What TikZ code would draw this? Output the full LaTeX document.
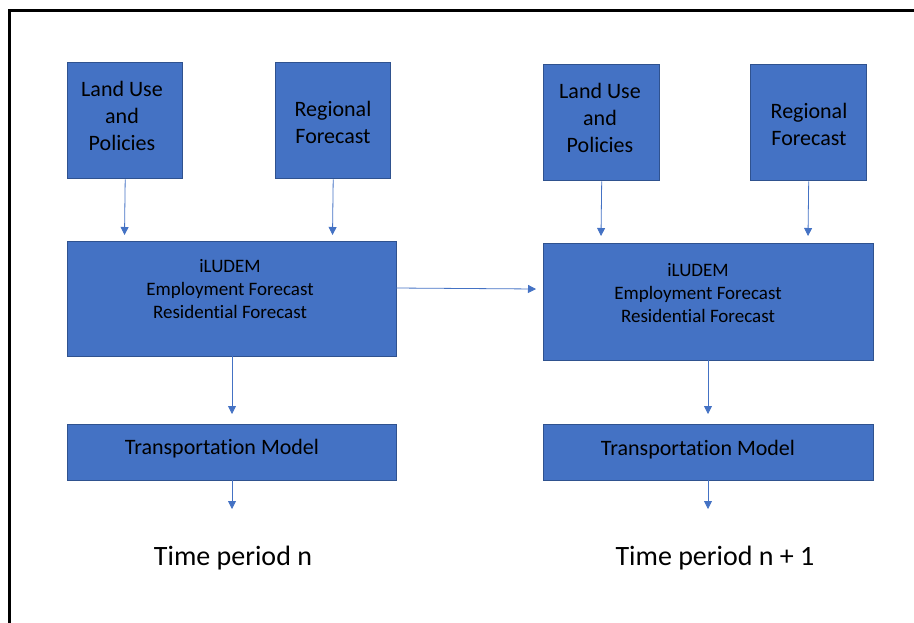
\documentclass[tikz,border=0pt]{standalone}
\usepackage{fontspec}
\setmainfont[Ligatures=NoCommon]{Carlito}
\usetikzlibrary{arrows.meta}
\definecolor{boxfill}{HTML}{4472C4}
\definecolor{boxline}{HTML}{2F528F}
\definecolor{arrcol}{HTML}{4472C4}
\begin{document}
\begin{tikzpicture}[x=1pt,y=-1pt,
  box/.style={draw=boxline, fill=boxfill, line width=1.4pt, inner sep=0pt, anchor=north west},
  bigtxt/.style={font=\fontsize{22}{27}\selectfont, align=center, text=black, inner sep=0pt},
  midtxt/.style={font=\fontsize{19}{23}\selectfont, align=center, text=black, inner sep=0pt},
  hugetxt/.style={font=\fontsize{28}{34}\selectfont, text=black, inner sep=0pt},
  conn/.style={draw=arrcol, line width=0.8pt, -{Triangle[length=8pt,width=8pt]}}]
\useasboundingbox (0,0) rectangle (914,622);
% frame
\draw[line width=3pt, black] (9,625) -- (9,10) -- (917,10);

% left column
\node[box, minimum width=115pt, minimum height=116pt] (lu1) at (67,62) {};
\node[box, minimum width=115pt, minimum height=116pt] (rf1) at (275,62) {};
\node[box, minimum width=329pt, minimum height=115pt] (il1) at (67,241) {};
\node[box, minimum width=329pt, minimum height=56pt] (tm1) at (67,424) {};

% right column
\node[box, minimum width=116pt, minimum height=116pt] (lu2) at (543,64) {};
\node[box, minimum width=116pt, minimum height=116pt] (rf2) at (750,64) {};
\node[box, minimum width=330pt, minimum height=117pt] (il2) at (543,243) {};
\node[box, minimum width=330pt, minimum height=56pt] (tm2) at (543,424) {};

% texts
\node[bigtxt] (lu1t) at (122,116) {Land Use\\and\\Policies};
\node[bigtxt] (rf1t) at (333,122) {Regional\\Forecast};
\node[bigtxt] (lu2t) at (600,118) {Land Use\\and\\Policies};
\node[bigtxt] (rf2t) at (809,124) {Regional\\Forecast};
\node[midtxt] (il1t) at (230,289) {iLUDEM\\Employment Forecast\\ Residential Forecast};
\node[midtxt] (il2t) at (698,293) {iLUDEM\\Employment Forecast\\ Residential Forecast};
\node[bigtxt] (tm1t) at (222,449) {Transportation Model};
\node[bigtxt] (tm2t) at (698,450) {Transportation Model};
\node[hugetxt] (tp1) at (233,558) {Time period n};
\node[hugetxt] (tp2) at (715,558) {Time period n + 1};

% connector end points
\coordinate (e1) at (124.5,235);
\coordinate (e2) at (332.5,235);
\coordinate (e3) at (601,236);
\coordinate (e4) at (808,236);
\coordinate (s5) at (396,288);
\coordinate (e5) at (536,289);
\coordinate (s6) at (232,356);
\coordinate (e6) at (232,414);
\coordinate (s7) at (232,480);
\coordinate (e7) at (232,509);
\coordinate (s8) at (708,360);
\coordinate (e8) at (708,414);
\coordinate (s9) at (708,480);
\coordinate (e9) at (708,509);

\draw[conn] (lu1.south) -- (e1);
\draw[conn] (rf1.south) -- (e2);
\draw[conn] (lu2.south) -- (e3);
\draw[conn] (rf2.south) -- (e4);
\draw[conn] (s5) -- (e5);
\draw[conn] (s6) -- (e6);
\draw[conn] (s7) -- (e7);
\draw[conn] (s8) -- (e8);
\draw[conn] (s9) -- (e9);
\end{tikzpicture}
\end{document}
